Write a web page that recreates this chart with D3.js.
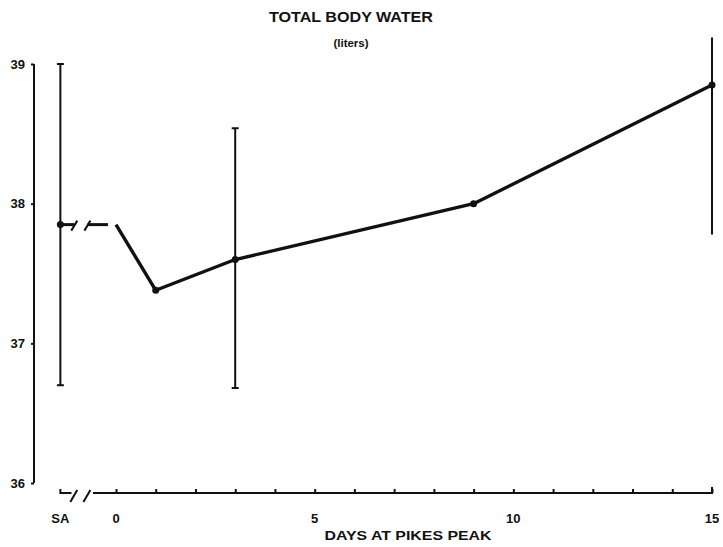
<!DOCTYPE html>
<html>
<head>
<meta charset="utf-8">
<script src="https://cdn.jsdelivr.net/npm/d3@7"></script>
<style>
  html, body { margin: 0; padding: 0; background: #fff; }
  svg { display: block; }
  text { font-family: "Liberation Sans", Arial, sans-serif; font-weight: bold; fill: #111; }
</style>
</head>
<body>
<svg id="chart" width="723" height="547"></svg>
<script>
// ---- data ----
const SA_POS = -1.4;                       // position of the "SA" (sea level) reading on the day axis
const pointDays   = [SA_POS, 0, 1, 3, 9, 15];
const waterValues = [37.85, 37.85, 37.38, 37.60, 38.00, 38.85];
const markerDays  = [SA_POS, 1, 3, 9, 15];
const errorDays   = [SA_POS, 3, 15];
const errorLow    = [36.70, 36.68, 37.78];
const errorHigh   = [39.00, 38.54, 39.19];
const yTicks      = [36, 37, 38, 39];
const xTickDays   = [SA_POS, 0, 5, 10, 15];
const xTickLabels = ["SA", "0", "5", "10", "15"];
const dayTicks    = d3.range(0, 16);
const breakDays   = [-1.05, -0.72];

const svg = d3.select("#chart");
const x = d3.scaleLinear().domain([0, 15]).range([116, 712]);
const y = d3.scaleLinear().domain([36, 39]).range([483, 64]);
const axisY = 493;
const valueAt = d => waterValues[pointDays.indexOf(d)];
const ink = "#111";

// ---- titles ----
svg.append("text").attr("x", 351).attr("y", 22).attr("text-anchor", "middle")
  .attr("font-size", 14).attr("textLength", 164).attr("lengthAdjust", "spacingAndGlyphs")
  .text("TOTAL BODY WATER");
svg.append("text").attr("x", 351).attr("y", 47).attr("text-anchor", "middle")
  .attr("font-size", 11.5).text("(liters)");
svg.append("text").attr("x", 408).attr("y", 540).attr("text-anchor", "middle")
  .attr("font-size", 13).attr("textLength", 167).attr("lengthAdjust", "spacingAndGlyphs")
  .text("DAYS AT PIKES PEAK");

// ---- y axis ----
const yAxis = d3.axisLeft(y).tickValues(yTicks).tickSize(3).tickPadding(6).tickFormat(d3.format("d"));
const gy = svg.append("g").attr("transform", "translate(34,0)").call(yAxis);
gy.select(".domain").attr("d", `M0,${y(39)}V${y(36)}`).attr("stroke", ink).attr("stroke-width", 2);
gy.selectAll(".tick line").attr("stroke", ink).attr("stroke-width", 2);
gy.selectAll(".tick text").attr("font-size", 13).attr("font-weight", "bold")
  .attr("font-family", "Liberation Sans, Arial, sans-serif").attr("fill", ink);

// ---- x axis (broken) ----
const xAxis = d3.axisTop(x).tickValues(dayTicks).tickSize(4).tickFormat("");
const gx = svg.append("g").attr("transform", `translate(0,${axisY})`).call(xAxis);
gx.select(".domain").attr("d", `M${x(-0.58)},0H${x(15)}V-6`).attr("stroke", ink).attr("stroke-width", 2).attr("fill", "none");
gx.selectAll(".tick line").attr("stroke", ink).attr("stroke-width", 2);
// SA stub and break marks on the axis
svg.append("path")
  .attr("d", `M${x(SA_POS)},${axisY - 4}V${axisY}H${x(-1.12)}`)
  .attr("fill", "none").attr("stroke", ink).attr("stroke-width", 2);
svg.selectAll(".axbreak").data(breakDays).join("line").attr("class", "axbreak")
  .attr("x1", d => x(d) - 4).attr("y1", axisY + 9)
  .attr("x2", d => x(d) + 3).attr("y2", axisY - 3)
  .attr("stroke", ink).attr("stroke-width", 2);
// tick labels
svg.selectAll(".xlab").data(xTickDays).join("text").attr("class", "xlab")
  .attr("x", d => x(d)).attr("y", 523).attr("text-anchor", "middle").attr("font-size", 13)
  .text((d, i) => xTickLabels[i]);

// ---- error bars ----
const eb = errorDays.map((d, i) => ({ day: d, lo: errorLow[i], hi: errorHigh[i] }));
svg.selectAll(".eb").data(eb).join("line").attr("class", "eb")
  .attr("x1", d => x(d.day)).attr("x2", d => x(d.day))
  .attr("y1", d => y(d.lo)).attr("y2", d => y(d.hi))
  .attr("stroke", ink).attr("stroke-width", 2);
const caps = eb.filter(d => d.day !== 15).flatMap(d => [{ day: d.day, v: d.lo }, { day: d.day, v: d.hi }]);
svg.selectAll(".cap").data(caps).join("line").attr("class", "cap")
  .attr("x1", d => x(d.day) - 3.5).attr("x2", d => x(d.day) + 3.5)
  .attr("y1", d => y(d.v)).attr("y2", d => y(d.v))
  .attr("stroke", ink).attr("stroke-width", 2);

// ---- data line (broken between SA and day 0) ----
const saV = valueAt(SA_POS), d0V = valueAt(0);
const line = d3.line().x(d => x(d[0])).y(d => y(d[1]));
svg.append("path").attr("d", line([[SA_POS, saV], [breakDays[0], saV]]))
  .attr("fill", "none").attr("stroke", ink).attr("stroke-width", 3);
svg.append("path").attr("d", line([[breakDays[1], d0V], [-0.2, d0V]]))
  .attr("fill", "none").attr("stroke", ink).attr("stroke-width", 3);
svg.selectAll(".lbreak").data(breakDays).join("line").attr("class", "lbreak")
  .attr("x1", d => x(d) - 3).attr("y1", y(saV) + 6)
  .attr("x2", d => x(d) + 3).attr("y2", y(saV) - 4)
  .attr("stroke", ink).attr("stroke-width", 2);
const mainPts = pointDays.filter(d => d >= 0).map(d => [d, valueAt(d)]);
svg.append("path").attr("d", line(mainPts))
  .attr("fill", "none").attr("stroke", ink).attr("stroke-width", 3.4).attr("stroke-linejoin", "round");

// ---- markers ----
svg.selectAll(".mk").data(markerDays).join("circle").attr("class", "mk")
  .attr("cx", d => x(d)).attr("cy", d => y(valueAt(d))).attr("r", 3.5).attr("fill", ink);
</script>
</body>
</html>
